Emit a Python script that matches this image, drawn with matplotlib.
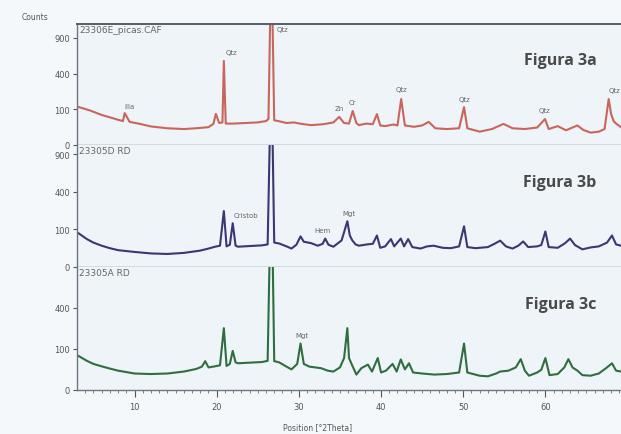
import numpy as np
import matplotlib
matplotlib.use('Agg')
import matplotlib.pyplot as plt

# ---- data (2theta, counts) ----
theta_a = [3.2, 4.5, 6.0, 7.2, 8.0, 8.6, 8.8, 9.1, 9.4, 10.5, 12.0, 14.0, 16.0, 17.5, 19.0,
           19.6, 19.9, 20.3, 20.7, 20.87, 21.1, 22.0, 23.5, 25.0, 26.0, 26.3, 26.65, 27.0,
           27.5, 28.5, 29.4, 30.3, 31.5, 33.0, 34.2, 34.9, 35.5, 36.1, 36.55, 37.0, 37.3,
           38.2, 39.0, 39.5, 39.9, 40.5, 41.5, 42.0, 42.45, 42.9, 44.0, 45.0, 45.8, 46.6,
           48.0, 49.5, 50.1, 50.5, 52.0, 53.5, 54.9, 56.0, 57.5, 59.0, 59.95, 60.4, 61.5,
           62.5, 63.9, 64.6, 65.5, 66.5, 67.2, 67.7, 68.0, 68.3, 68.6, 69.2]
counts_a = [113, 95, 71, 58, 50, 45, 80, 60, 42, 36, 27, 22, 20, 22, 25,
            35, 76, 38, 40, 555, 36, 36, 38, 40, 45, 53, 3000, 48,
            45, 38, 40, 35, 31, 34, 40, 62, 38, 36, 91, 38, 31,
            36, 34, 75, 30, 28, 33, 30, 166, 30, 26, 30, 42, 22,
            20, 22, 113, 22, 14, 20, 35, 22, 20, 24, 53, 20, 28,
            17, 30, 18, 12, 14, 20, 166, 75, 45, 36, 25]

theta_b = [3.2, 4.2, 5.0, 6.0, 7.0, 8.0, 10.0, 12.0, 14.0, 16.0, 18.0, 19.0, 19.8, 20.4,
           20.87, 21.2, 21.6, 21.95, 22.3, 22.6, 24.0, 25.5, 26.2, 26.65, 27.0, 27.6, 28.5,
           29.1, 29.7, 30.2, 30.6, 31.5, 32.3, 32.9, 33.2, 33.6, 34.2, 35.2, 35.9, 36.2,
           36.5, 36.9, 37.3, 38.3, 39.0, 39.5, 39.9, 40.5, 41.2, 41.6, 42.4, 42.8, 43.3,
           43.8, 44.8, 45.6, 46.4, 47.5, 48.5, 49.5, 50.1, 50.5, 51.5, 53.0, 53.8, 54.5,
           55.2, 56.0, 56.7, 57.3, 57.9, 59.0, 59.5, 60.0, 60.4, 61.5, 62.4, 63.0, 63.6,
           64.5, 65.5, 66.5, 67.5, 68.1, 68.6, 69.2]
counts_b = [80, 55, 42, 32, 25, 20, 16, 13, 12, 14, 19, 24, 29, 32,
            221, 30, 35, 135, 32, 29, 31, 33, 36, 3000, 42, 39, 30,
            24, 35, 66, 45, 40, 32, 38, 57, 35, 29, 50, 148, 70,
            50, 36, 32, 36, 38, 70, 26, 30, 55, 30, 57, 30, 55,
            28, 24, 30, 32, 26, 25, 30, 117, 28, 25, 28, 38, 49,
            30, 24, 32, 46, 28, 30, 34, 89, 28, 26, 40, 57, 34,
            22, 27, 30, 42, 70, 36, 32]

theta_c = [3.2, 4.2, 5.0, 6.0, 7.0, 8.0, 10.0, 12.0, 14.0, 16.0, 17.5, 18.2, 18.6, 19.0,
           19.8, 20.4, 20.87, 21.2, 21.6, 21.95, 22.3, 22.6, 24.0, 25.5, 26.2, 26.65, 27.0,
           27.6, 28.5, 29.1, 29.8, 30.2, 30.6, 31.3, 32.0, 32.7, 33.5, 34.2, 35.0, 35.5,
           35.9, 36.1, 36.6, 37.0, 37.6, 38.4, 38.9, 39.6, 40.0, 40.6, 41.4, 41.9, 42.4,
           42.9, 43.4, 43.9, 45.0, 46.5, 48.0, 49.5, 50.1, 50.5, 52.0, 53.0, 54.0, 54.5,
           55.5, 56.4, 57.0, 57.5, 58.0, 59.0, 59.5, 60.0, 60.5, 61.5, 62.3, 62.8, 63.3,
           63.9, 64.5, 65.5, 66.5, 67.5, 68.1, 68.6, 69.2]
counts_c = [68, 50, 40, 33, 27, 22, 16, 15, 16, 20, 26, 32, 49, 30,
            33, 36, 225, 34, 40, 90, 45, 42, 44, 46, 50, 3000, 49,
            45, 32, 25, 40, 127, 40, 32, 30, 28, 22, 20, 30, 60,
            225, 60, 30, 14, 28, 38, 20, 60, 18, 22, 40, 20, 55,
            25, 42, 18, 16, 14, 15, 18, 127, 18, 12, 11, 16, 20,
            22, 30, 56, 22, 12, 18, 24, 60, 13, 15, 30, 56, 30,
            22, 13, 12, 16, 30, 42, 22, 20]

sample_names = ['23306E_picas.CAF', '23305D RD', '23305A RD']
figure_tags = ['Figura 3a', 'Figura 3b', 'Figura 3c']
y_tops = [1150, 1050, 890]
y_ticks = [[0, 100, 400, 900], [0, 100, 400, 900], [0, 100, 400]]

# peak labels: (text, 2theta, counts at peak, dx pt, dy pt, ha)
labels_a = [('Illa', 8.8, 80, 0, 3, 'left'), ('Qtz', 20.87, 555, 1, 4, 'left'),
            ('Qtz', 26.65, 1000, 4, 0, 'left'), ('Zn', 34.9, 62, 0, 4, 'center'),
            ('Cr', 36.55, 91, 0, 4, 'center'), ('Qtz', 42.45, 166, 0, 5, 'center'),
            ('Qtz', 50.1, 113, 0, 4, 'center'), ('Qtz', 59.95, 53, 0, 4, 'center'),
            ('Qtz', 67.7, 166, 0, 4, 'left')]
labels_b = [('Cristob', 21.95, 135, 1, 4, 'left'), ('Hem', 33.2, 57, -2, 4, 'center'),
            ('Mgt', 35.9, 148, 1, 4, 'center')]
labels_c = [('Mgt', 30.2, 127, 1, 4, 'center')]

series = [(theta_a, counts_a, '#c9665c', labels_a),
          (theta_b, counts_b, '#3d3672', labels_b),
          (theta_c, counts_c, '#2f6e3e', labels_c)]


def fwd(v):
    return np.sqrt(np.clip(v, 0, None))


def inv(v):
    return np.square(v)


fig = plt.figure(figsize=(6.21, 4.35), dpi=100, facecolor='#f5f8fa')
gs = fig.add_gridspec(3, 1, left=77/621, right=1.0, top=1-25/435, bottom=1-391/435,
                      hspace=0, height_ratios=[121, 122, 123])

axes = []
for i, (tx, cy, col, labs) in enumerate(series):
    ax = fig.add_subplot(gs[i])
    axes.append(ax)
    ax.set_facecolor('#eef4f8')
    ax.plot(tx, cy, color=col, lw=1.5)
    ax.set_yscale('function', functions=(fwd, inv))
    ax.set_xlim(3, 69.2)
    ax.set_ylim(0, y_tops[i])
    ax.set_yticks(y_ticks[i])
    ax.tick_params(axis='y', direction='out', length=3, labelsize=6, colors='#555555',
                   pad=2)
    for s in ['left', 'bottom', 'top']:
        ax.spines[s].set_color('#6d7780')
        ax.spines[s].set_linewidth(1.0)
    ax.spines['right'].set_visible(False)
    if i > 0:
        ax.spines['top'].set_visible(False)
    else:
        ax.spines['top'].set_linewidth(1.4)
        ax.spines['top'].set_color('#555d66')
    ax.text(0.004, 0.99, sample_names[i], transform=ax.transAxes, va='top', ha='left',
            fontsize=6.5, color='#666666')
    ax.text(0.955, 0.70, figure_tags[i], transform=ax.transAxes, va='center', ha='right',
            fontsize=11.5, fontweight='bold', color='#4a4a4a', family='Open Sans')
    for txt, px, py, dx, dy, ha in labs:
        ax.annotate(txt, (px, py), xytext=(dx, dy), textcoords='offset points',
                    ha=ha, va='bottom', fontsize=5, color='#666666')
    if i < 2:
        ax.tick_params(axis='x', bottom=False, labelbottom=False)

axb = axes[-1]
axb.set_xticks([10, 20, 30, 40, 50, 60])
axb.set_xticks(np.arange(4, 70, 1), minor=True)
axb.tick_params(axis='x', which='major', direction='out', length=5, labelsize=6,
                colors='#555555', pad=4)
axb.tick_params(axis='x', which='minor', direction='out', length=2.5, colors='#666666')

fig.text(22/621, 1-17/435, 'Counts', fontsize=5.5, color='#555555', va='center')
fig.text(318/621, 1-428/435, 'Position [°2Theta]', fontsize=5.5, color='#555555',
         ha='center', va='center')

fig.savefig('out.png', dpi=100, facecolor=fig.get_facecolor())
